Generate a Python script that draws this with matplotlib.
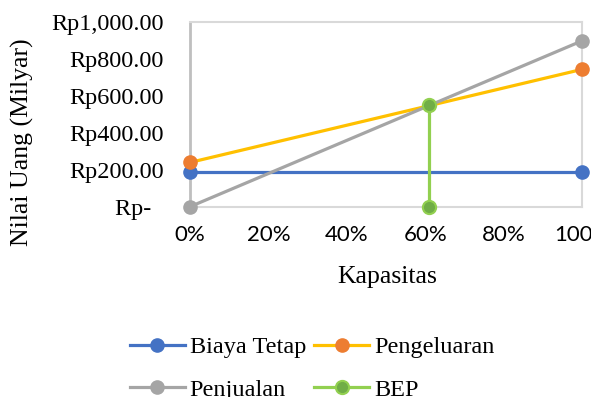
import matplotlib
matplotlib.use("Agg")
import matplotlib.pyplot as plt
from matplotlib.ticker import FuncFormatter

# Capacity (fraction of full capacity) and values in billions of Rupiah
kapasitas = [0.0, 1.0]
biaya_tetap = [190, 190]
pengeluaran = [240, 745]
penjualan = [0, 900]
bep_x = [0.61, 0.61]
bep_y = [0, 550]

y_ticks = [0, 200, 400, 600, 800, 1000]
x_ticks = [0.0, 0.2, 0.4, 0.6, 0.8, 1.0]

W, H, DPI = 591, 397, 100
fig = plt.figure(figsize=(W / DPI, H / DPI), dpi=DPI)
fig.patch.set_facecolor("white")

left, right = 190 / W, 582.3 / W
bottom, top = 1 - 206.7 / H, 1 - 22.3 / H
ax = fig.add_axes([left, bottom, right - left, top - bottom])

serif = "Liberation Serif"
sans = ["Lato", "DejaVu Sans"]
fs = 17.5
fs_title = 18.5

ms = 9.5
lw = 2.3
ax.plot(kapasitas, biaya_tetap, color="#4472C4", lw=lw, marker="o", ms=ms,
        mfc="#4472C4", mec="#4472C4", clip_on=False, zorder=3, label="Biaya Tetap")
ax.plot(kapasitas, pengeluaran, color="#FFC000", lw=lw, marker="o", ms=ms,
        mfc="#ED7D31", mec="#ED7D31", clip_on=False, zorder=3, label="Pengeluaran")
ax.plot(kapasitas, penjualan, color="#A5A5A5", lw=lw, marker="o", ms=ms,
        mfc="#A5A5A5", mec="#A5A5A5", clip_on=False, zorder=3, label="Penjualan")
ax.plot(bep_x, bep_y, color="#92D050", lw=lw, marker="o", ms=ms,
        mfc="#70AD47", mec="#92D050", mew=1.5, clip_on=False, zorder=4, label="BEP")

ax.set_xlim(0, 1)
ax.set_ylim(0, 1000)
ax.set_xticks(x_ticks)
ax.set_yticks(y_ticks)

ax.xaxis.set_major_formatter(FuncFormatter(lambda v, p: f"{v * 100:.0f}%"))


def rupiah(v, p):
    if v == 0:
        return "Rp-  "
    return f"Rp{v:,.2f}"


ax.yaxis.set_major_formatter(FuncFormatter(rupiah))

for lab in ax.get_yticklabels():
    lab.set_fontfamily(serif)
    lab.set_fontsize(fs)
for lab in ax.get_xticklabels():
    lab.set_fontfamily(sans)
    lab.set_fontsize(fs - 1.5)

ax.tick_params(axis="y", length=0, pad=19)
ax.tick_params(axis="x", length=0, pad=13)

for side in ["top", "right", "bottom"]:
    ax.spines[side].set_color("#D9D9D9")
    ax.spines[side].set_linewidth(1.5)
ax.spines["left"].set_color("#BFBFBF")
ax.spines["left"].set_linewidth(2)

fig.text(387 / W, 1 - 277 / H, "Kapasitas", family=serif, fontsize=fs_title,
         ha="center", va="center")
fig.text(22 / W, 1 - 142 / H, "Nilai Uang (Milyar)", family=serif,
         fontsize=fs_title, ha="center", va="center", rotation=90)

# Legend filled row by row: two entries per row
handles, labels = ax.get_legend_handles_labels()
order = [0, 2, 1, 3]
leg = fig.legend([handles[i] for i in order], [labels[i] for i in order],
                 ncol=2, loc="upper left",
                 bbox_to_anchor=(130 / W, 1 - 336 / H),
                 frameon=False, prop={"family": serif, "size": fs},
                 handlelength=2.25, handletextpad=0.2, columnspacing=0.35,
                 labelspacing=0.85, borderpad=0, borderaxespad=0)

fig.savefig("out.png", dpi=DPI, facecolor="white")
